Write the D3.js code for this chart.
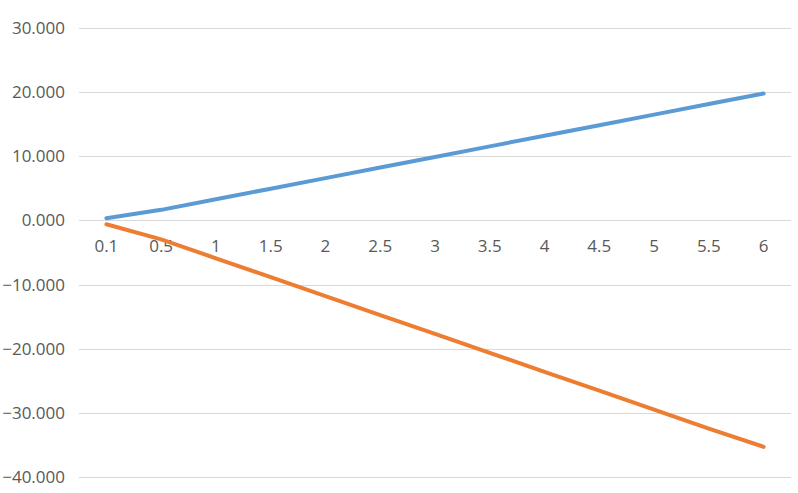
<!DOCTYPE html>
<html><head><meta charset="utf-8">
<script src="https://cdn.jsdelivr.net/npm/d3@7"></script>
<style>body{margin:0;background:#fff}svg{display:block}text{font-family:"Open Sans","Liberation Sans",Arial,sans-serif;fill:#595959}</style>
</head><body><svg id="c" width="798" height="493"></svg>
<script>
const categories = ["0.1","0.5","1","1.5","2","2.5","3","3.5","4","4.5","5","5.5","6"];
const seriesA = [0.35,1.65,3.3,4.95,6.6,8.25,9.9,11.55,13.2,14.85,16.5,18.15,19.8];
const seriesB = [-0.6,-2.95,-5.9,-8.85,-11.8,-14.75,-17.7,-20.65,-23.6,-26.55,-29.5,-32.45,-35.3];
const yTicks = [30,20,10,0,-10,-20,-30,-40];

(function () {
const svg = d3.select("#c");
const pL = 79, pR = 791, pT = 28, pB = 477;
const x = d3.scaleBand().domain(categories).range([pL, pR]);
const y = d3.scaleLinear().domain([-40, 30]).range([pB, pT]);

const g = svg.append("g");
g.selectAll("line.grid").data(yTicks).join("line")
  .attr("x1", pL).attr("x2", pR)
  .attr("y1", d => Math.round(y(d)) + 0.5).attr("y2", d => Math.round(y(d)) + 0.5)
  .attr("stroke", "#d9d9d9").attr("stroke-width", 1);

g.selectAll("text.yl").data(yTicks).join("text")
  .attr("x", 65).attr("y", d => y(d) + 6)
  .attr("text-anchor", "end").attr("font-size", 17)
  .text(d => d3.format(".3f")(d));

g.selectAll("text.xl").data(categories).join("text")
  .attr("x", d => x(d) + x.bandwidth() / 2).attr("y", y(0) + 32)
  .attr("text-anchor", "middle").attr("font-size", 17)
  .text(d => d);

const line = d3.line().x((d, i) => x(categories[i]) + x.bandwidth() / 2).y(d => y(d));
[[seriesA, "#5B9BD5"], [seriesB, "#ED7D31"]].forEach(([s, c]) => {
  g.append("path").datum(s).attr("d", line).attr("fill", "none")
    .attr("stroke", c).attr("stroke-width", 4).attr("stroke-linecap", "round").attr("stroke-linejoin", "round");
});
})();
</script></body></html>
